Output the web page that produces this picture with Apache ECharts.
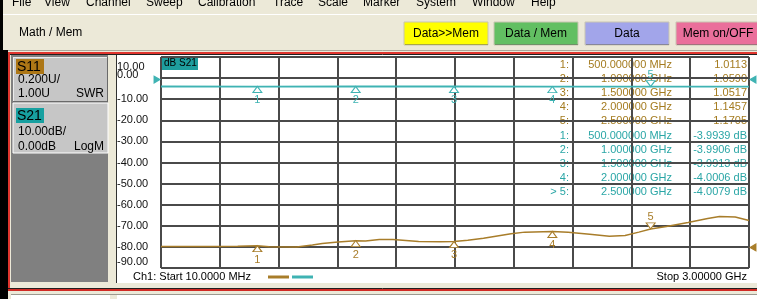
<!DOCTYPE html>
<html>
<head>
<meta charset="utf-8">
<script src="https://cdn.jsdelivr.net/npm/echarts@6/dist/echarts.min.js"></script>
<style>
html, body { margin: 0; padding: 0; background: #ECE9D8; }
#vna { width: 757px; height: 299px; }
</style>
</head>
<body>
<div id="vna"></div>
<script>
var FONT = '"Liberation Sans", Arial, sans-serif';
var BROWN = '#a87d2a';
var TEAL = '#3fb3b3';
var BROWN_TXT = '#a47b1f';
var TEAL_TXT = '#2aa6a6';
var GRID_C = '#4a4a4a';

// menu + toolbar
var menuItems = ['File', 'View', 'Channel', 'Sweep', 'Calibration', 'Trace', 'Scale', 'Marker', 'System', 'Window', 'Help'];
var buttons = ['Data>>Mem', 'Data / Mem', 'Data', 'Mem on/OFF'];
var buttonColors = ['#ffff00', '#62bf62', '#a2a5ea', '#ea6f9b'];

// markers (MHz)
var markerFreqs = [500, 1000, 1500, 2000, 2500];
var markerFreqText = ['500.000000 MHz', '1.000000 GHz', '1.500000 GHz', '2.000000 GHz', '2.500000 GHz'];
var s11MarkerVals = [1.0113, 1.0590, 1.0517, 1.1457, 1.1705];
var s21MarkerVals = [-3.9939, -3.9906, -3.9913, -4.0006, -4.0079];

// S11 trace, SWR
var s11Freqs = [10, 130, 250, 400, 500, 560, 700, 780, 830, 910, 1000, 1050, 1120, 1190, 1320, 1430, 1500,
    1570, 1650, 1720, 1790, 1860, 2000, 2080, 2190, 2290, 2370, 2440, 2500, 2580, 2690, 2790, 2850, 2930, 3000];
var s11Swr = [1.003, 1.004, 1.003, 1.006, 1.0113, 1.002, 1.000, 1.018, 1.032, 1.047, 1.059, 1.055, 1.069, 1.070, 1.052, 1.048, 1.0517,
    1.062, 1.081, 1.104, 1.124, 1.140, 1.1457, 1.139, 1.120, 1.100, 1.109, 1.140, 1.1705, 1.194, 1.232, 1.270, 1.289, 1.284, 1.251];

// S21 trace, dB
var s21Freqs = [10, 500, 1000, 1500, 2000, 2500, 3000];
var s21Db = [-3.990, -3.9939, -3.9906, -3.9913, -4.0006, -4.0079, -4.010];

// screen layout
var menuX = [12, 44, 86, 146, 198, 273, 318, 363, 416, 472, 531];
var buttonX = [404, 494, 585, 676];

var chart = echarts.init(document.getElementById('vna'));

var g = [];
function rect(x, y, w, h, fill, z, stroke) {
    g.push({ type: 'rect', z: z == null ? -10 : z, shape: { x: x, y: y, width: w, height: h },
        style: { fill: fill, stroke: stroke || null, lineWidth: 1 }, silent: true });
}
function line(x1, y1, x2, y2, c, w, z) {
    g.push({ type: 'line', z: z == null ? -9 : z, shape: { x1: x1, y1: y1, x2: x2, y2: y2 },
        style: { stroke: c, lineWidth: w || 1 }, silent: true });
}
function txt(x, y, s, o) {
    o = o || {};
    g.push({ type: 'text', z: o.z == null ? 5 : o.z, x: x, y: y, silent: true,
        style: { text: s, fill: o.color || '#000', font: (o.size || 12) + 'px ' + FONT,
            align: o.align || 'left', verticalAlign: 'middle' } });
}

// window chrome
rect(0, 0, 3, 52, '#000');
rect(0, 50, 8, 249, '#000');
for (var i = 0; i < menuItems.length; i++) txt(menuX[i], 2.7, menuItems[i]);
line(3, 14.5, 757, 14.5, '#ffffff');
txt(19, 33, 'Math / Mem');
for (i = 0; i < buttons.length; i++) {
    rect(buttonX[i], 22, 84, 23, buttonColors[i], -8, '#c9c5b2');
    line(buttonX[i] + 1, 44.5, buttonX[i] + 84, 44.5, 'rgba(0,0,0,0.25)', 1, -7);
    txt(buttonX[i] + 42, 33.5, buttons[i], { align: 'center' });
}
line(8, 50.5, 757, 50.5, '#a9a79b');
rect(8, 52, 749, 2, '#e0352e', -7);
line(8, 54.5, 757, 54.5, '#202020', 1, -7);
rect(8, 52, 2, 239, '#e0352e', -7);
line(8, 288.5, 757, 288.5, '#202020', 1, -7);
rect(8, 289, 749, 2, '#d12a24', -7);
line(11, 294.5, 757, 294.5, '#9c9a90');
rect(11, 295, 99, 4, '#ffffff');
rect(117, 295, 640, 4, '#ffffff');

// left channel panel
rect(11, 55, 97, 227, '#808080');
rect(13, 57, 95, 45, '#c6c6c6', -8);
line(13, 57.5, 108, 57.5, '#ececec', 1, -7);
line(13.5, 57, 13.5, 102, '#ececec', 1, -7);
line(13, 101.5, 108, 101.5, '#6a6a6a', 1, -7);
line(107.5, 57, 107.5, 102, '#6a6a6a', 1, -7);
rect(16, 59, 28, 15, '#ad7716', -6);
txt(17, 67, 'S11', { size: 14 });
txt(18, 80, '0.200U/');
txt(18, 94, '1.00U');
txt(104, 94, 'SWR', { align: 'right' });

rect(13, 103, 95, 50, '#c6c6c6', -8, '#ffffff');
rect(16, 108, 28, 15, '#17a0a0', -6);
txt(17, 116, 'S21', { size: 14 });
txt(18, 132, '10.00dB/');
txt(18, 147, '0.00dB');
txt(104, 147, 'LogM', { align: 'right' });

// chart panel
rect(117, 55, 640, 228, '#ffffff');
line(116.5, 55, 116.5, 283, '#303030');
rect(162, 57, 36, 13, '#1e9e9e', -5);
txt(164, 63.5, 'dB S21', { size: 10 });
txt(133, 276.5, 'Ch1: Start 10.0000 MHz', { size: 11 });
txt(747, 276.5, 'Stop 3.00000 GHz', { size: 11, align: 'right' });

// marker readout table
for (i = 0; i < 5; i++) {
    var yb = 65 + i * 14.1, yt = 65 + (i + 5) * 14.1;
    txt(569, yb, (i + 1) + ':', { size: 11, color: BROWN_TXT, align: 'right', z: -1 });
    txt(672, yb, markerFreqText[i], { size: 11, color: BROWN_TXT, align: 'right', z: -1 });
    txt(747, yb, s11MarkerVals[i].toFixed(4), { size: 11, color: BROWN_TXT, align: 'right', z: -1 });
    txt(569, yt, (i == 4 ? '> ' : '') + (i + 1) + ':', { size: 11, color: TEAL_TXT, align: 'right', z: -1 });
    txt(672, yt, markerFreqText[i], { size: 11, color: TEAL_TXT, align: 'right', z: -1 });
    txt(747, yt, s21MarkerVals[i].toFixed(4) + ' dB', { size: 11, color: TEAL_TXT, align: 'right', z: -1 });
}

function markers(vals) {
    var d = [];
    for (var k = 0; k < markerFreqs.length; k++) {
        var item = { name: String(k + 1), coord: [markerFreqs[k], vals[k]] };
        if (k == 4) {
            item.symbolRotate = 180;
            item.symbolOffset = [0, -3];
            item.label = { position: 'top', distance: 0 };
        }
        d.push(item);
    }
    return d;
}
function refArrow(x, y, rot, off, color) {
    return { name: '', coord: [x, y], symbolRotate: rot, symbolSize: [7, 6], symbolOffset: off,
        itemStyle: { color: color, borderColor: color }, label: { show: false } };
}

var s11Marks = markers(s11MarkerVals);
s11Marks.push(refArrow(3000, 1.0, 90, [4, 0.5], BROWN));
var s21Marks = markers(s21MarkerVals);
s21Marks.push(refArrow(10, 0, -90, [-4, 1.5], TEAL));
s21Marks.push(refArrow(3000, 0, 90, [4, 1.5], TEAL));

function markStyle(color) {
    return {
        symbol: 'triangle', symbolSize: [9, 6], symbolOffset: [0, 3],
        itemStyle: { color: '#ffffff', borderColor: color, borderWidth: 1 },
        label: { show: true, position: 'bottom', distance: 2, color: color, fontSize: 11, fontFamily: FONT, formatter: '{b}' }
    };
}

var mp11 = markStyle(BROWN); mp11.data = s11Marks;
var mp21 = markStyle(TEAL); mp21.data = s21Marks;

var option = {
    backgroundColor: '#ECE9D8',
    animation: false,
    graphic: g,
    legend: {
        data: ['S11', 'S21'],
        left: 268, top: 275.5, padding: 0,
        icon: 'rect', itemWidth: 21, itemHeight: 3, itemGap: 3,
        formatter: function () { return ''; },
        textStyle: { fontSize: 11 },
        selectedMode: false
    },
    grid: { left: 161, top: 57, width: 588, height: 211, show: false },
    xAxis: [{
        type: 'value', min: 10, max: 3000, show: false
    }, {
        type: 'value', min: 0, max: 10, interval: 1,
        axisLine: { show: false }, axisTick: { show: false }, axisLabel: { show: false },
        splitLine: { show: true, lineStyle: { color: GRID_C, width: 2 } }
    }],
    yAxis: [{
        type: 'value', min: -90, max: 10, interval: 10,
        axisLine: { show: false }, axisTick: { show: false },
        splitLine: { show: true, lineStyle: { color: GRID_C, width: 2 } },
        axisLabel: {
            margin: 44, align: 'left', color: '#111', fontSize: 11, fontFamily: FONT, lineHeight: 13,
            showMinLabel: true, showMaxLabel: true, hideOverlap: false,
            formatter: function (v) {
                // the analyser squeezes the top two labels together under the top line
                if (v === 10) return '{p|\n\n\n}{s|10.00\n0.00}';
                if (v === 0) return '';
                var s = v.toFixed(2);
                if (v === -90) return s + '\n';
                return s;
            },
            rich: {
                p: { lineHeight: 9, fontSize: 11, fontFamily: FONT, color: '#111' },
                s: { lineHeight: 8, fontSize: 11, fontFamily: FONT, color: '#111' }
            }
        }
    }, {
        type: 'value', min: 0.8, max: 2.8, show: false
    }],
    series: [{
        name: 'S11', type: 'line', xAxisIndex: 0, yAxisIndex: 1,
        data: s11Freqs.map(function (f, i) { return [f, s11Swr[i]]; }),
        symbol: 'none', color: BROWN,
        lineStyle: { color: BROWN, width: 1.5 },
        markPoint: mp11
    }, {
        name: 'S21', type: 'line', xAxisIndex: 0, yAxisIndex: 0,
        data: s21Freqs.map(function (f, i) { return [f, s21Db[i]]; }),
        symbol: 'none', color: TEAL,
        lineStyle: { color: TEAL, width: 1.8 },
        markPoint: mp21
    }]
};

chart.setOption(option);
</script>
</body>
</html>
